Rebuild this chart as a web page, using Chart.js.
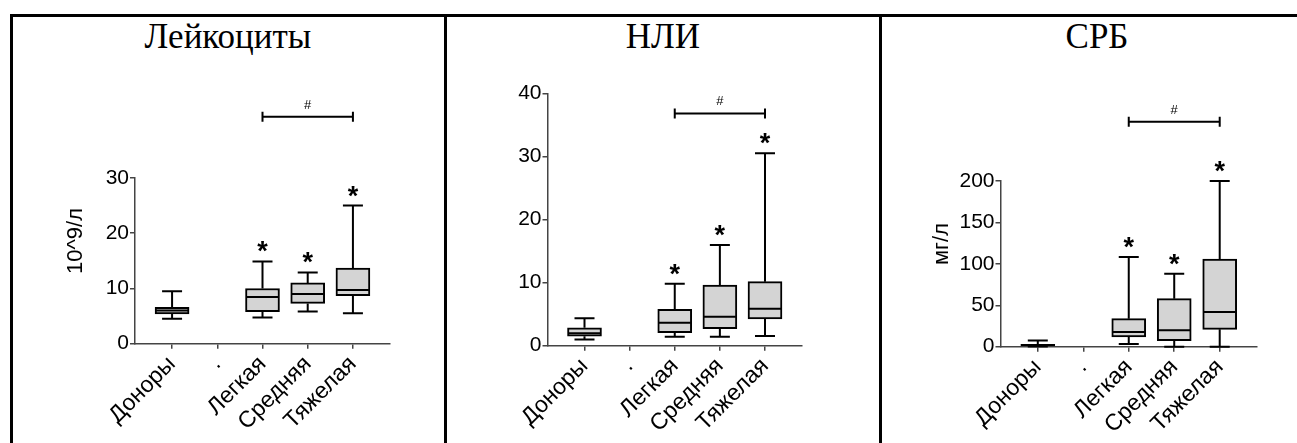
<!DOCTYPE html>
<html>
<head>
<meta charset="utf-8">
<script src="https://cdn.jsdelivr.net/npm/chart.js"></script>
<style>
  body { margin: 0; background: #fff; }
  #wrap { position: relative; width: 1297px; height: 443px; overflow: hidden; background: #fff; }
  .line { position: absolute; background: #000; }
  .title { position: absolute; top: 19px; width: 300px; text-align: center; line-height: 1;
           font-family: 'Liberation Serif', 'Times New Roman', serif; font-size: 35px; color: #000; }
  canvas { position: absolute; top: 17px; }
</style>
</head>
<body>
<div id="wrap">
  <div class="line" style="left:10px; top:14px; width:1300px; height:3px;"></div>
  <div class="line" style="left:10px; top:14px; width:3px; height:440px;"></div>
  <div class="line" style="left:444px; top:14px; width:3px; height:440px;"></div>
  <div class="line" style="left:879px; top:14px; width:3px; height:440px;"></div>

  <div class="title" style="left:78px;">Лейкоциты</div>
  <div class="title" style="left:513px;">НЛИ</div>
  <div class="title" style="left:947px;">СРБ</div>

  <canvas id="c1" width="430" height="426" style="left:13px;"></canvas>
  <canvas id="c2" width="432" height="426" style="left:447px;"></canvas>
  <canvas id="c3" width="415" height="426" style="left:882px;"></canvas>
</div>

<script>
// groups on the x axis
const categories = ['Доноры', '.', 'Легкая', 'Средняя', 'Тяжелая'];
const starred = [false, false, true, true, true];

// Лейкоциты, 10^9/л
const leukoMin = [4.5, null, 4.75, 5.85, 5.5];
const leukoQ1  = [5.4, null, 5.8, 7.3, 8.7];
const leukoMed = [6.0, null, 8.45, 9.0, 9.7];
const leukoQ3  = [6.6, null, 10.0, 11.0, 13.7];
const leukoMax = [9.5, null, 14.9, 12.9, 25.0];
const leukoTicks = [0, 10, 20, 30];

// НЛИ
const nliMin = [1.0, null, 1.43, 1.43, 1.54];
const nliQ1  = [1.5, null, 2.06, 2.7, 4.23];
const nliMed = [1.96, null, 3.65, 4.6, 5.87];
const nliQ3  = [2.85, null, 5.77, 9.6, 10.15];
const nliMax = [4.34, null, 9.83, 15.96, 30.5];
const nliTicks = [0, 10, 20, 30, 40];

// СРБ, мг/л
const crpMin = [0.3, null, 3.3, 0, 0];
const crpQ1  = [1.0, null, 11.7, 7.2, 21];
const crpMed = [2.0, null, 17.7, 19.8, 41.9];
const crpQ3  = [3.0, null, 33.8, 58, 105.9];
const crpMax = [7.5, null, 108.3, 88.1, 200];
const crpTicks = [0, 50, 100, 150, 200];

// level of the "#" bracket between Легкая and Тяжелая, in axis units
const leukoBracket = 41.1;
const nliBracket = 36.8;
const crpBracket = 271.6;

const axisColor = '#444';
const boxFill = '#d4d4d4';

function boxPlugin(stats) {
  return {
    id: 'boxes',
    afterDatasetsDraw(chart) {
      const { ctx, scales: { x, y } } = chart;
      ctx.save();
      ctx.strokeStyle = '#000';
      ctx.lineWidth = 2;
      ctx.lineCap = 'butt';
      stats.min.forEach((lo, i) => {
        if (lo == null) return;
        const cx = x.getPixelForValue(i);
        const pMin = y.getPixelForValue(lo);
        const pQ1 = y.getPixelForValue(stats.q1[i]);
        const pMed = y.getPixelForValue(stats.med[i]);
        const pQ3 = y.getPixelForValue(stats.q3[i]);
        const pMax = y.getPixelForValue(stats.max[i]);
        ctx.beginPath();
        ctx.moveTo(cx, pQ3); ctx.lineTo(cx, pMax);
        ctx.moveTo(cx - 10, pMax); ctx.lineTo(cx + 10, pMax);
        ctx.moveTo(cx, pQ1); ctx.lineTo(cx, pMin);
        ctx.moveTo(cx - 10, pMin); ctx.lineTo(cx + 10, pMin);
        ctx.moveTo(cx - 16, pMed); ctx.lineTo(cx + 16, pMed);
        ctx.stroke();
        if (starred[i]) {
          ctx.fillStyle = '#000';
          ctx.font = 'bold 27px "Liberation Sans", Arial, sans-serif';
          ctx.textAlign = 'center';
          ctx.textBaseline = 'alphabetic';
          ctx.fillText('*', cx, pMax - 1);
        }
      });
      // significance bracket
      const bx1 = x.getPixelForValue(2);
      const bx2 = x.getPixelForValue(4);
      const by = y.getPixelForValue(stats.bracket);
      ctx.beginPath();
      ctx.moveTo(bx1, by); ctx.lineTo(bx2, by);
      ctx.moveTo(bx1, by - 5); ctx.lineTo(bx1, by + 5);
      ctx.moveTo(bx2, by - 5); ctx.lineTo(bx2, by + 5);
      ctx.stroke();
      ctx.fillStyle = '#000';
      ctx.font = '13px "Liberation Sans", Arial, sans-serif';
      ctx.textAlign = 'center';
      ctx.textBaseline = 'alphabetic';
      ctx.fillText('#', x.getPixelForValue(3), by - 8);
      // y axis title
      if (stats.unit) {
        ctx.translate(chart.chartArea.left - 59, chart.chartArea.top + 63);
        ctx.rotate(-Math.PI / 2);
        ctx.font = '22px "Liberation Sans", Arial, sans-serif';
        ctx.textBaseline = 'middle';
        ctx.fillText(stats.unit, 0, 0);
      }
      ctx.restore();
    }
  };
}

function makeChart(id, stats, ticks, padding) {
  const boxes = stats.q1
    .map((v, i) => v == null ? null : { x: i, y: [v, stats.q3[i]] })
    .filter(Boolean);
  return new Chart(document.getElementById(id), {
    type: 'bar',
    data: {
      datasets: [{
        data: boxes,
        backgroundColor: boxFill,
        borderColor: '#000',
        borderWidth: 2,
        borderSkipped: false,
        barThickness: 34
      }]
    },
    options: {
      responsive: false,
      animation: false,
      events: [],
      layout: { padding },
      plugins: { legend: { display: false }, tooltip: { enabled: false } },
      scales: {
        x: {
          type: 'linear',
          offset: false,
          min: -0.82,
          max: 4.82,
          afterBuildTicks: s => { s.ticks = categories.map((c, i) => ({ value: i })); },
          afterFit: s => { s.height = 96; },
          grid: { offset: false, drawOnChartArea: false, drawTicks: true, tickLength: 5, color: axisColor, lineWidth: 1.5 },
          border: { display: true, color: axisColor, width: 1.5 },
          ticks: {
            minRotation: 45, maxRotation: 45, padding: 2, autoSkip: false,
            color: '#000',
            font: { family: '"Liberation Sans", Arial, sans-serif', size: 23 },
            callback: v => categories[v]
          }
        },
        y: {
          min: ticks[0],
          max: ticks[ticks.length - 1],
          afterBuildTicks: s => { s.ticks = ticks.map(v => ({ value: v })); },
          afterFit: s => { s.width = 50; },
          grid: { drawOnChartArea: false, drawTicks: true, tickLength: 5, color: axisColor, lineWidth: 1.5 },
          border: { display: true, color: axisColor, width: 1.5 },
          ticks: {
            padding: 1,
            color: '#000',
            font: { family: '"Liberation Sans", Arial, sans-serif', size: 21 }
          }
        }
      }
    },
    plugins: [boxPlugin(stats)]
  });
}

makeChart('c1',
  { min: leukoMin, q1: leukoQ1, med: leukoMed, q3: leukoQ3, max: leukoMax, bracket: leukoBracket, unit: '10^9/л' },
  leukoTicks, { left: 72, right: 53, top: 161, bottom: 3.3 });
makeChart('c2',
  { min: nliMin, q1: nliQ1, med: nliMed, q3: nliQ3, max: nliMax, bracket: nliBracket, unit: '' },
  nliTicks, { left: 50.5, right: 77, top: 76.3, bottom: 1.3 });
makeChart('c3',
  { min: crpMin, q1: crpQ1, med: crpMed, q3: crpQ3, max: crpMax, bracket: crpBracket, unit: 'мг/л' },
  crpTicks, { left: 68.5, right: 40, top: 164, bottom: 0.3 });
</script>
</body>
</html>
